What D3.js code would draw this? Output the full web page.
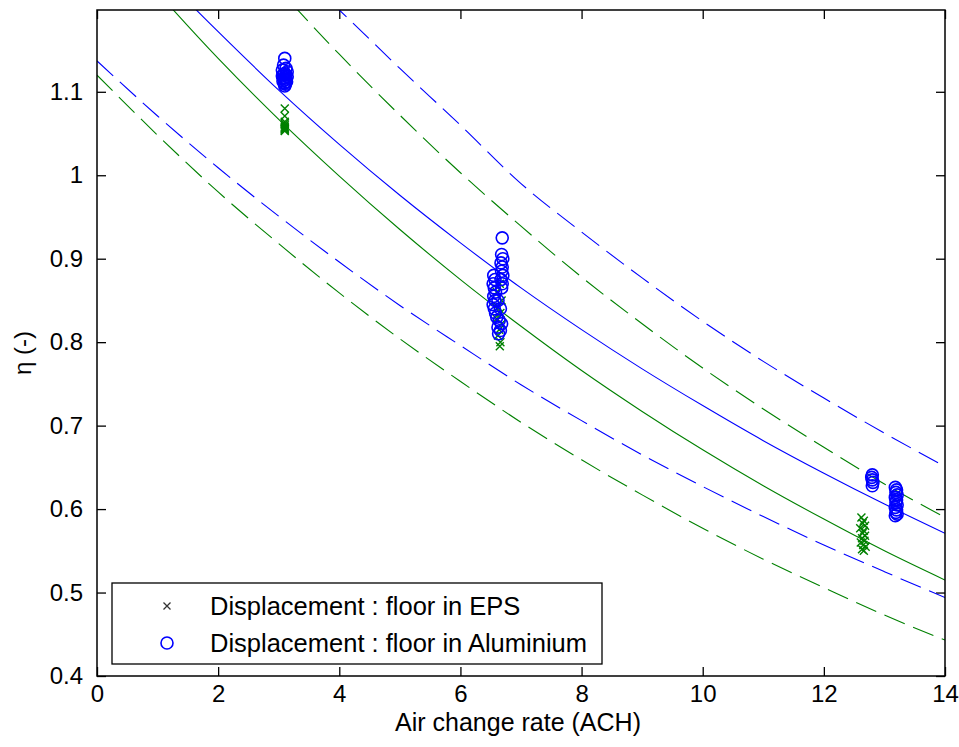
<!DOCTYPE html>
<html>
<head>
<meta charset="utf-8">
<script src="https://cdn.jsdelivr.net/npm/d3@7"></script>
<style>
    body { margin: 0; background: #fff; }
    text { font-family: "Liberation Sans", Arial, sans-serif; fill: #000; }
</style>
</head>
<body>
<div id="chart"></div>
<script>
var achGrid = [0, 1, 2, 3, 4, 5, 6, 7, 8, 9, 10, 11, 12, 13, 14];
var aluFit   = [1.320, 1.245, 1.172, 1.102, 1.037, 0.976, 0.919, 0.865, 0.815, 0.768, 0.724, 0.682, 0.643, 0.606, 0.571];
var aluUpper = [1.505, 1.420, 1.340, 1.265, 1.198, 1.128, 1.060, 0.990, 0.932, 0.877, 0.825, 0.777, 0.733, 0.691, 0.651];
var aluLower = [1.137, 1.071, 1.009, 0.951, 0.896, 0.844, 0.796, 0.749, 0.706, 0.665, 0.627, 0.591, 0.557, 0.525, 0.494];
var epsFit   = [1.302, 1.219, 1.140, 1.067, 0.999, 0.935, 0.875, 0.819, 0.766, 0.717, 0.671, 0.628, 0.588, 0.550, 0.515];
var epsUpper = [1.492, 1.397, 1.306, 1.223, 1.145, 1.072, 1.003, 0.939, 0.878, 0.822, 0.769, 0.720, 0.674, 0.630, 0.590];
var epsLower = [1.120, 1.048, 0.980, 0.918, 0.859, 0.804, 0.753, 0.704, 0.659, 0.617, 0.577, 0.540, 0.506, 0.473, 0.443];

// Measurements: floor in EPS (green crosses)
var epsAch = [3.10, 3.10, 3.10, 3.10, 3.10, 3.10, 3.10, 3.10, 3.10, 3.10, 3.10,
              6.65, 6.60, 6.68, 6.62, 6.66, 6.60, 6.68, 6.64, 6.62, 6.66, 6.65,
              12.62, 12.66, 12.64, 12.68, 12.60, 12.66, 12.64, 12.68, 12.63, 12.67,
              12.61, 12.65, 12.69, 12.63, 12.66];
var epsEta = [1.080, 1.071, 1.064, 1.062, 1.060, 1.058, 1.057, 1.056, 1.055, 1.054, 1.053,
              0.870, 0.860, 0.850, 0.842, 0.835, 0.828, 0.822, 0.815, 0.808, 0.800, 0.795,
              0.590, 0.586, 0.583, 0.580, 0.577, 0.574, 0.571, 0.568, 0.565, 0.562,
              0.560, 0.557, 0.555, 0.552, 0.550];

// Measurements: floor in Aluminium (blue circles)
var aluAch = [3.10, 3.08, 3.12, 3.06, 3.14, 3.10, 3.08, 3.12, 3.06, 3.14,
              3.10, 3.08, 3.12, 3.10, 3.07, 3.13, 3.10, 3.09, 3.11, 3.10,
              6.69,
              6.68, 6.70, 6.67, 6.69, 6.68, 6.70, 6.67, 6.69, 6.68,
              6.55, 6.57, 6.54, 6.56, 6.58, 6.55, 6.57, 6.54, 6.56, 6.58,
              6.62, 6.66, 6.60, 6.64, 6.68, 6.62, 6.66, 6.63,
              12.80, 12.79, 12.80, 12.81, 12.80,
              13.18, 13.20, 13.19, 13.21, 13.18, 13.20, 13.19, 13.21, 13.18, 13.20,
              13.19, 13.21, 13.18];
var aluEta = [1.140, 1.132, 1.128, 1.126, 1.124, 1.122, 1.121, 1.120, 1.119, 1.118,
              1.117, 1.116, 1.115, 1.114, 1.113, 1.112, 1.111, 1.110, 1.109, 1.107,
              0.925,
              0.905, 0.900, 0.895, 0.890, 0.885, 0.880, 0.875, 0.870, 0.865,
              0.880, 0.875, 0.870, 0.865, 0.860, 0.855, 0.850, 0.845, 0.840, 0.835,
              0.850, 0.840, 0.830, 0.826, 0.822, 0.818, 0.814, 0.810,
              0.641, 0.638, 0.635, 0.632, 0.628,
              0.626, 0.623, 0.620, 0.617, 0.614, 0.611, 0.608, 0.605, 0.602, 0.599,
              0.596, 0.594, 0.592];

var xTicks = [0, 2, 4, 6, 8, 10, 12, 14];
var yTicks = [0.4, 0.5, 0.6, 0.7, 0.8, 0.9, 1, 1.1];
var legendLabels = ["Displacement : floor in EPS", "Displacement : floor in Aluminium"];

var blue = "#0000ff",
    green = "#008000";

var margin = {top: 10, right: 14, bottom: 71, left: 97},
    width = 959 - margin.left - margin.right,
    height = 747 - margin.top - margin.bottom;

var svg = d3.select("#chart").append("svg")
    .attr("width", 959)
    .attr("height", 747)
  .append("g")
    .attr("transform", "translate(" + margin.left + "," + margin.top + ")");

var x = d3.scaleLinear().domain([0, 14]).range([0, width]);
var y = d3.scaleLinear().domain([0.4, 1.198]).range([height, 0]);

svg.append("clipPath").attr("id", "plot-clip")
  .append("rect").attr("width", width).attr("height", height);

// axes with inward ticks on all four sides
var tickLen = 9;
function styleAxis(g) {
    g.selectAll("path.domain").remove();
    g.selectAll("line").attr("stroke", "#000").attr("stroke-width", 1.3);
    g.selectAll("text").style("font-size", "24px").attr("fill", "#000");
}
svg.append("g")
    .attr("transform", "translate(0," + height + ")")
    .call(d3.axisBottom(x).tickValues(xTicks).tickSizeInner(-tickLen).tickSizeOuter(0).tickPadding(9))
    .call(styleAxis);
svg.append("g")
    .call(d3.axisTop(x).tickValues(xTicks).tickSizeInner(-tickLen).tickSizeOuter(0).tickFormat(""))
    .call(styleAxis);
svg.append("g")
    .call(d3.axisLeft(y).tickValues(yTicks).tickSizeInner(-tickLen).tickSizeOuter(0).tickPadding(14)
        .tickFormat(function(d) { return d3.format("~g")(d); }))
    .call(styleAxis);
svg.append("g")
    .attr("transform", "translate(" + width + ",0)")
    .call(d3.axisRight(y).tickValues(yTicks).tickSizeInner(-tickLen).tickSizeOuter(0).tickFormat(""))
    .call(styleAxis);

// fitted curves
var line = d3.line()
    .x(function(d) { return x(d[0]); })
    .y(function(d) { return y(d[1]); })
    .curve(d3.curveMonotoneX);

var curves = [
    {vals: epsLower, color: green, dash: "22,9"},
    {vals: epsUpper, color: green, dash: "22,9"},
    {vals: epsFit, color: green, dash: null},
    {vals: aluLower, color: blue, dash: "22,9"},
    {vals: aluUpper, color: blue, dash: "22,9"},
    {vals: aluFit, color: blue, dash: null}
];
var curveLayer = svg.append("g").attr("clip-path", "url(#plot-clip)");
curves.forEach(function(c) {
    curveLayer.append("path")
        .datum(achGrid.map(function(a, i) { return [a, c.vals[i]]; }))
        .attr("fill", "none")
        .attr("stroke", c.color)
        .attr("stroke-width", 1.1)
        .attr("stroke-dasharray", c.dash)
        .attr("d", line);
});

// markers
function cross(s) {
    return "M" + (-s) + "," + (-s) + "L" + s + "," + s + "M" + (-s) + "," + s + "L" + s + "," + (-s);
}
svg.append("g").selectAll("path.eps")
    .data(epsAch.map(function(a, i) { return [a, epsEta[i]]; }))
  .enter().append("path")
    .attr("class", "eps")
    .attr("transform", function(d) { return "translate(" + x(d[0]) + "," + y(d[1]) + ")"; })
    .attr("d", cross(4))
    .attr("stroke", green)
    .attr("stroke-width", 1.4);

svg.append("g").selectAll("circle.alu")
    .data(aluAch.map(function(a, i) { return [a, aluEta[i]]; }))
  .enter().append("circle")
    .attr("class", "alu")
    .attr("cx", function(d) { return x(d[0]); })
    .attr("cy", function(d) { return y(d[1]); })
    .attr("r", 6)
    .attr("fill", "none")
    .attr("stroke", blue)
    .attr("stroke-width", 1.6);

// frame
svg.append("rect")
    .attr("width", width).attr("height", height)
    .attr("fill", "none").attr("stroke", "#000").attr("stroke-width", 1.5);

// axis labels
svg.append("text")
    .attr("x", width / 2 - 3).attr("y", height + 55)
    .attr("text-anchor", "middle")
    .style("font-size", "25px")
    .text("Air change rate (ACH)");
svg.append("text")
    .attr("transform", "translate(" + (-66) + "," + (height / 2 + 10) + ") rotate(-90)")
    .attr("text-anchor", "middle")
    .style("font-size", "24px")
    .text("\u03b7 (-)");

// legend
var legend = svg.append("g").attr("transform", "translate(" + (112 - margin.left) + "," + (583 - margin.top) + ")");
legend.append("rect")
    .attr("width", 490).attr("height", 81)
    .attr("fill", "#fff").attr("stroke", "#000").attr("stroke-width", 1.3);
legend.append("path")
    .attr("transform", "translate(55,23)")
    .attr("d", cross(3.5))
    .attr("stroke", "#333").attr("stroke-width", 1.3);
legend.append("circle")
    .attr("cx", 55).attr("cy", 60).attr("r", 6)
    .attr("fill", "none").attr("stroke", blue).attr("stroke-width", 1.6);
legend.selectAll("text.lab")
    .data(legendLabels)
  .enter().append("text")
    .attr("class", "lab")
    .attr("x", 98)
    .attr("y", function(d, i) { return 23 + i * 37; })
    .attr("dy", "0.35em")
    .style("font-size", "25.5px")
    .text(function(d) { return d; });
</script>
</body>
</html>
